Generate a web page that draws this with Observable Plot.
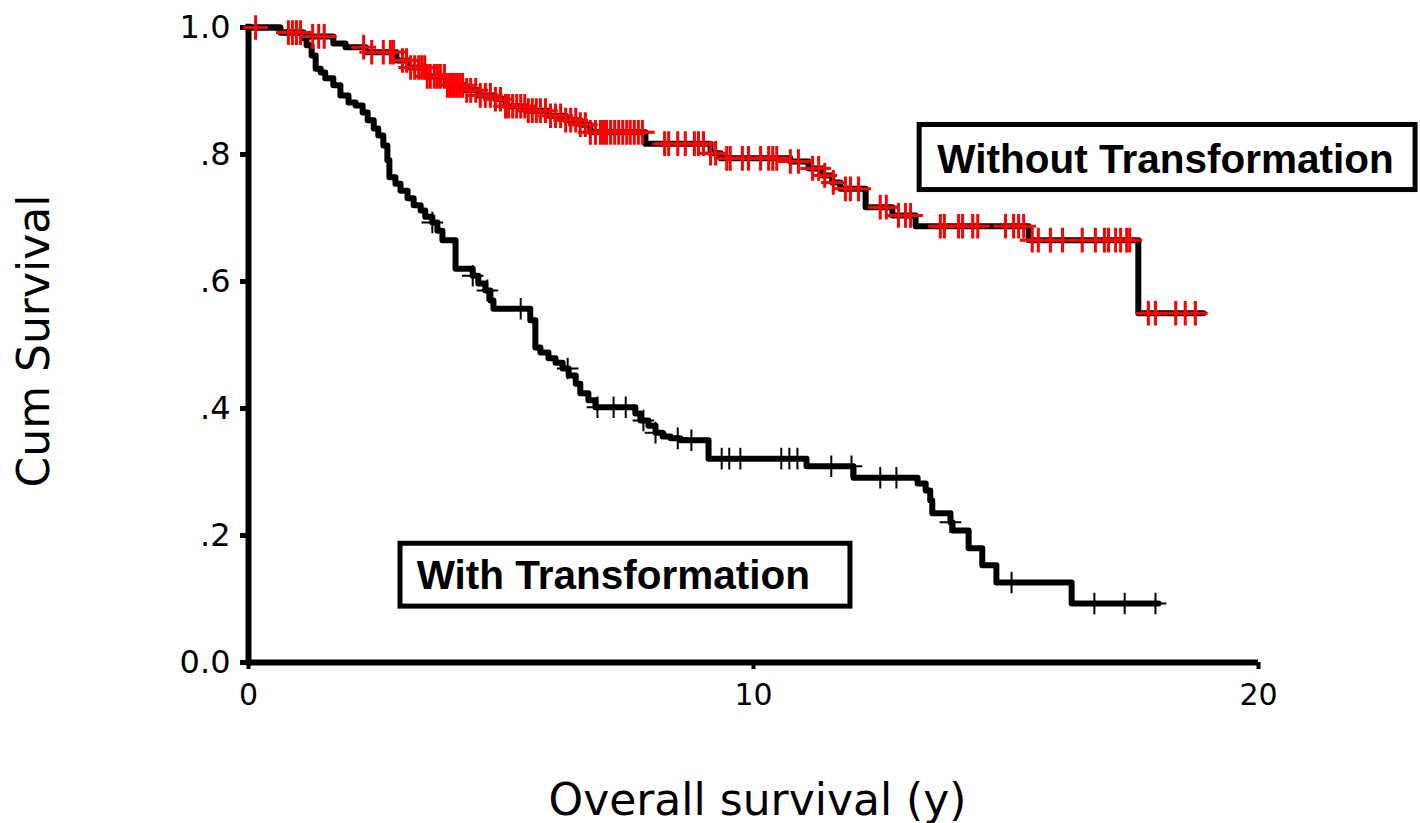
<!DOCTYPE html>
<html>
<head>
<meta charset="utf-8">
<script src="https://cdn.jsdelivr.net/npm/d3@7"></script>
<script src="https://cdn.jsdelivr.net/npm/@observablehq/plot@0.6"></script>
<style>
  html, body { margin: 0; padding: 0; background: #fff; }
  #chart svg { display: block; }
</style>
</head>
<body>
<div id="chart"></div>
<script>
// Kaplan–Meier estimates: event times (years) and survival after each step
const withTimes = [0, 0.63, 1.07, 1.15, 1.25, 1.33, 1.43, 1.52, 1.68, 1.82, 1.98, 2.12, 2.26, 2.36, 2.48, 2.57, 2.67, 2.75, 2.79, 2.91, 3.01, 3.15, 3.27, 3.41, 3.50, 3.64, 3.74, 3.84, 4.10, 4.44, 4.55, 4.69, 4.79, 4.85, 5.58, 5.68, 5.78, 5.94, 6.08, 6.22, 6.34, 6.48, 6.57, 6.73, 6.87, 7.66, 7.76, 7.92, 8.06, 8.20, 8.36, 8.55, 9.11, 11.05, 11.98, 13.25, 13.41, 13.50, 13.54, 13.90, 13.94, 14.26, 14.53, 14.81, 16.30];
const withSurv  = [1.0, 0.992, 0.983, 0.972, 0.956, 0.935, 0.929, 0.920, 0.909, 0.893, 0.882, 0.877, 0.866, 0.854, 0.841, 0.830, 0.814, 0.791, 0.764, 0.754, 0.743, 0.731, 0.720, 0.712, 0.702, 0.693, 0.680, 0.665, 0.620, 0.609, 0.597, 0.586, 0.570, 0.557, 0.539, 0.496, 0.488, 0.479, 0.472, 0.463, 0.452, 0.439, 0.424, 0.413, 0.402, 0.392, 0.381, 0.373, 0.362, 0.356, 0.353, 0.350, 0.321, 0.309, 0.291, 0.282, 0.271, 0.255, 0.235, 0.221, 0.208, 0.180, 0.153, 0.126, 0.093];
const withEnd = 18.02;
const withCensored = [3.64, 4.44, 4.73, 5.39, 6.32, 6.91, 7.23, 7.47, 7.82, 8.06, 8.50, 8.77, 9.37, 9.52, 9.74, 10.55, 10.71, 10.87, 11.54, 11.94, 12.51, 12.83, 13.90, 15.11, 16.75, 17.35, 17.96];

const withoutTimes = [0, 0.63, 1.09, 1.68, 1.92, 2.32, 2.93, 3.17, 3.50, 3.90, 4.30, 4.55, 4.89, 5.09, 5.49, 5.94, 6.28, 6.57, 6.77, 7.86, 9.15, 9.35, 10.73, 11.09, 11.37, 11.56, 11.72, 12.22, 12.75, 13.21, 15.45, 17.62];
const withoutSurv  = [1.0, 0.992, 0.986, 0.975, 0.969, 0.961, 0.948, 0.937, 0.923, 0.909, 0.901, 0.893, 0.887, 0.876, 0.869, 0.861, 0.854, 0.847, 0.835, 0.817, 0.802, 0.794, 0.789, 0.778, 0.767, 0.756, 0.746, 0.717, 0.704, 0.687, 0.665, 0.550];
const withoutEnd = 18.91;
const withoutCensored = [0.14, 0.79, 0.87, 0.95, 1.03, 1.27, 1.39, 1.50, 2.28, 2.44, 2.67, 2.81, 2.87,
  3.05, 3.13, 3.21, 3.29, 3.37, 3.43, 3.49, 3.54, 3.60, 3.68, 3.74, 3.80, 3.88, 3.94, 4.00, 4.06, 4.12, 4.18, 4.24, 4.32, 4.40, 4.50, 4.59, 4.69, 4.79, 4.89, 4.99,
  5.09, 5.15, 5.23, 5.31, 5.39, 5.47, 5.54, 5.62, 5.70, 5.78, 5.88, 5.98, 6.08, 6.18, 6.28, 6.38, 6.48, 6.57, 6.67, 6.77, 6.87, 6.97,
  7.03, 7.09, 7.17, 7.25, 7.33, 7.41, 7.49, 7.56, 7.64, 7.72, 7.80, 8.24, 8.32, 8.50, 8.65, 8.83, 8.91, 9.01, 9.15, 9.25, 9.47, 9.54, 9.78, 9.90,
  10.14, 10.30, 10.38, 10.46, 10.73, 10.89, 11.17, 11.29, 11.41, 11.58, 11.82, 11.92, 12.08, 12.51, 12.63, 12.87, 13.01, 13.11, 13.70, 13.78,
  14.06, 14.14, 14.34, 14.44, 14.99, 15.15, 15.25, 15.35, 15.52, 15.64, 15.88, 16.12, 16.51, 16.77, 16.95, 17.03, 17.17, 17.27, 17.39, 17.45,
  17.82, 17.96, 18.36, 18.55, 18.75];

const xTicks = [0, 10, 20];
const yTicks = [0, 0.2, 0.4, 0.6, 0.8, 1.0];
const yTickLabels = ["0.0", ".2", ".4", ".6", ".8", "1.0"];
const groupLabels = ["Without Transformation", "With Transformation"];

// step-after survival curve rows, extended to the last follow-up time
function curve(times, surv, end) {
  const rows = times.map((t, i) => ({t, s: surv[i]}));
  rows.push({t: end, s: surv[surv.length - 1]});
  return rows;
}
// survival value at time t on a step function
function survAt(times, surv, t) {
  const i = d3.bisectRight(times, t) - 1;
  return surv[Math.max(0, i)];
}
const withCurve = curve(withTimes, withSurv, withEnd);
const withoutCurve = curve(withoutTimes, withoutSurv, withoutEnd);
const withMarks = withCensored.map(t => ({t, s: survAt(withTimes, withSurv, t)}));
const withoutMarks = withoutCensored.map(t => ({t, s: survAt(withoutTimes, withoutSurv, t)}));

const labelFont = "'Liberation Sans', Arial, sans-serif";

const chart = Plot.plot({
  width: 1420,
  height: 823,
  marginLeft: 248,
  marginRight: 162,
  marginTop: 27,
  marginBottom: 161,
  style: {fontFamily: "'DejaVu Sans', Verdana, sans-serif", fontSize: "30px", color: "#000", background: "#fff", overflow: "visible"},
  x: {domain: [0, 20]},
  y: {domain: [0, 1]},
  marks: [
    Plot.axisX({ticks: xTicks, tickSize: 7, tickPadding: 14, strokeWidth: 4, label: null, fontSize: 30}),
    Plot.axisY({ticks: yTicks, tickFormat: d => yTickLabels[yTicks.indexOf(d)], tickSize: 8, tickPadding: 10, strokeWidth: 5, label: null, fontSize: 32}),
    Plot.ruleX([0], {stroke: "#000", strokeWidth: 6, y1: -0.005, y2: 1.005}),
    Plot.ruleY([0], {stroke: "#000", strokeWidth: 6}),
    Plot.line(withCurve, {x: "t", y: "s", curve: "step-after", stroke: "#000", strokeWidth: 6}),
    Plot.line(withoutCurve, {x: "t", y: "s", curve: "step-after", stroke: "#000", strokeWidth: 6}),
    Plot.dot(withoutMarks, {x: "t", y: "s", symbol: "plus", r: 8, stroke: "#ff0000", strokeWidth: 3}),
    Plot.dot(withMarks, {x: "t", y: "s", symbol: "plus", r: 7, stroke: "#000", strokeWidth: 2}),
    // boxed group labels
    Plot.rect([groupLabels[0]], {x1: 13.29, x2: 23.11, y1: 0.744, y2: 0.8465, fill: "#fff", stroke: "#000", strokeWidth: 5}),
    Plot.rect([groupLabels[1]], {x1: 3.01, x2: 11.92, y1: 0.088, y2: 0.187, fill: "#fff", stroke: "#000", strokeWidth: 5}),
    Plot.text([groupLabels[0]], {x: 13.64, y: 0.791, text: d => d, textAnchor: "start", lineAnchor: "middle", fontFamily: labelFont, fontWeight: "bold", fontSize: 40.5, fill: "#000"}),
    Plot.text([groupLabels[1]], {x: 3.33, y: 0.136, text: d => d, textAnchor: "start", lineAnchor: "middle", fontFamily: labelFont, fontWeight: "bold", fontSize: 40.5, fill: "#000"}),
    // axis titles
    Plot.text(["Cum Survival"], {frameAnchor: "left", rotate: -90, dx: -214, dy: -4, text: d => d, textAnchor: "middle", lineAnchor: "middle", fontSize: 44, fill: "#000"}),
    Plot.text(["Overall survival (y)"], {frameAnchor: "bottom", dx: 4, dy: 138, text: d => d, textAnchor: "middle", lineAnchor: "middle", fontSize: 44, fill: "#000"})
  ]
});
document.getElementById("chart").appendChild(chart);
</script>
</body>
</html>
